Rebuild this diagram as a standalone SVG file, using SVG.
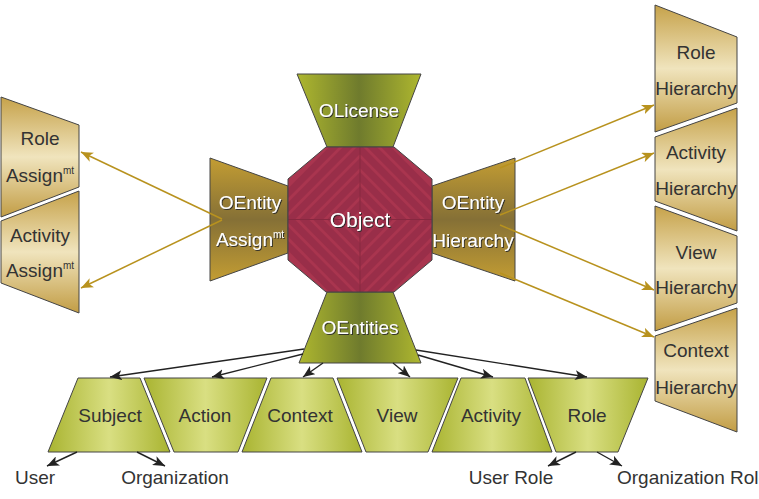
<svg xmlns="http://www.w3.org/2000/svg" width="759" height="499" viewBox="0 0 759 499">
<defs>
<style>
.lbl{font-family:"Liberation Sans",Arial,sans-serif;font-size:19px;text-anchor:middle;fill:#333}
.wlbl{font-family:"Liberation Sans",Arial,sans-serif;font-size:19px;text-anchor:middle;fill:#fff;filter:url(#sh)}
.sup{font-size:10px}
.edge{stroke:#444;stroke-width:1}
.gold{fill:none;stroke:#b8921e;stroke-width:1.5}
.blk{fill:none;stroke:#222;stroke-width:1.4}
</style>
<filter id="sh" x="-10%" y="-20%" width="130%" height="150%">
<feDropShadow dx="1" dy="1" stdDeviation="0.7" flood-color="#2a2a2a" flood-opacity="0.9"/>
</filter>
<linearGradient id="gGreen" x1="0" y1="0" x2="1" y2="0">
<stop offset="0" stop-color="#a9b431"/>
<stop offset="0.5" stop-color="#d9df82"/>
<stop offset="1" stop-color="#a9b431"/>
</linearGradient>
<linearGradient id="gOlive" x1="0" y1="0" x2="1" y2="0">
<stop offset="0" stop-color="#aeb72f"/>
<stop offset="0.5" stop-color="#6f7b2d"/>
<stop offset="1" stop-color="#aeb72f"/>
</linearGradient>
<linearGradient id="gBrass" x1="0" y1="0" x2="0" y2="1">
<stop offset="0" stop-color="#c39d33"/>
<stop offset="0.5" stop-color="#857036"/>
<stop offset="1" stop-color="#c39d33"/>
</linearGradient>
<linearGradient id="gSand" x1="0" y1="0" x2="0" y2="1">
<stop offset="0" stop-color="#c6a24a"/>
<stop offset="0.5" stop-color="#f0e4bd"/>
<stop offset="1" stop-color="#c29d45"/>
</linearGradient>
<clipPath id="octClip">
<polygon points="326,147 394,147 432,179 432,260 394,292 326,292 288,260 288,179"/>
</clipPath>
<marker id="ahGold" markerUnits="userSpaceOnUse" markerWidth="13" markerHeight="10" refX="12" refY="5" orient="auto">
<path d="M0,0 L12,5 L0,10 L3,5 z" fill="#b8921e"/>
</marker>
<marker id="ahBlk" markerUnits="userSpaceOnUse" markerWidth="13" markerHeight="10" refX="12" refY="5" orient="auto">
<path d="M0,0 L12,5 L0,10 L3,5 z" fill="#222"/>
</marker>
</defs>

<g id="OLicense">
<polygon class="edge" points="297,74 421,74 393,147 327,147" fill="url(#gOlive)"/>
<text class="wlbl" x="359" y="117">OLicense</text>
</g>
<g id="OEntities">
<polygon class="edge" points="327,292 393,292 421,363 299,363" fill="url(#gOlive)"/>
<text class="wlbl" x="360" y="334">OEntities</text>
</g>
<g id="OEntityAssign">
<polygon class="edge" points="210,158 288,186 288,253 210,281" fill="url(#gBrass)"/>
<text class="wlbl" x="250" y="209">OEntity</text>
<text class="wlbl" x="250" y="246">Assign<tspan class="sup" dy="-8">mt</tspan></text>
</g>
<g id="OEntityHierarchy">
<polygon class="edge" points="515,158 432,186 432,253 515,281" fill="url(#gBrass)"/>
<text class="wlbl" x="473" y="209">OEntity</text>
<text class="wlbl" x="473" y="247">Hierarchy</text>
</g>
<g id="Object">
<polygon points="326,147 394,147 432,179 432,260 394,292 326,292 288,260 288,179" fill="#a9354f"/>
<g clip-path="url(#octClip)" fill="none" stroke="#952d47" stroke-width="7" opacity="0.75">
<polygon points="360,205 374,219.5 360,234 346,219.5"/>
<polygon points="360,191 388,219.5 360,248 332,219.5"/>
<polygon points="360,177 402,219.5 360,262 318,219.5"/>
<polygon points="360,163 416,219.5 360,276 304,219.5"/>
<polygon points="360,149 430,219.5 360,290 290,219.5"/>
<polygon points="360,135 444,219.5 360,304 276,219.5"/>
<polygon points="360,121 458,219.5 360,318 262,219.5"/>
<line x1="288" y1="219.5" x2="432" y2="219.5" stroke-width="1" stroke="#7d243b"/>
<line x1="360" y1="147" x2="360" y2="292" stroke-width="1" stroke="#7d243b"/>
</g>
<polygon class="edge" points="326,147 394,147 432,179 432,260 394,292 326,292 288,260 288,179" fill="none"/>
<text class="wlbl" x="360" y="227" style="font-size:21px">Object</text>
</g>

<g id="RoleAssign">
<polygon class="edge" points="1,97 79,125 79,187 1,217" fill="url(#gSand)"/>
<text class="lbl" x="40" y="145">Role</text>
<text class="lbl" x="40" y="182">Assign<tspan class="sup" dy="-8">mt</tspan></text>
</g>
<g id="ActivityAssign">
<polygon class="edge" points="1,221 79,191 79,313 1,283" fill="url(#gSand)"/>
<text class="lbl" x="40" y="242">Activity</text>
<text class="lbl" x="40" y="277">Assign<tspan class="sup" dy="-8">mt</tspan></text>
</g>

<g id="RoleHierarchy">
<polygon class="edge" points="655,5 737,37 737,103 655,132" fill="url(#gSand)"/>
<text class="lbl" x="696" y="59">Role</text>
<text class="lbl" x="696" y="95">Hierarchy</text>
</g>
<g id="ActivityHierarchy">
<polygon class="edge" points="655,137 737,108 737,231 655,201" fill="url(#gSand)"/>
<text class="lbl" x="696" y="159">Activity</text>
<text class="lbl" x="696" y="195">Hierarchy</text>
</g>
<g id="ViewHierarchy">
<polygon class="edge" points="655,206 737,236 737,303 655,331" fill="url(#gSand)"/>
<text class="lbl" x="696" y="259">View</text>
<text class="lbl" x="696" y="294">Hierarchy</text>
</g>
<g id="ContextHierarchy">
<polygon class="edge" points="655,336 737,308 737,432 655,401" fill="url(#gSand)"/>
<text class="lbl" x="696" y="357">Context</text>
<text class="lbl" x="696" y="394">Hierarchy</text>
</g>

<g id="Subject">
<polygon class="edge" points="78,378 140,378 170,452 48,452" fill="url(#gGreen)"/>
<text class="lbl" x="110" y="422">Subject</text>
</g>
<g id="Action">
<polygon class="edge" points="144,378 267,378 238,452 174,452" fill="url(#gGreen)"/>
<text class="lbl" x="205" y="422">Action</text>
</g>
<g id="Context">
<polygon class="edge" points="271,378 333,378 362,452 242,452" fill="url(#gGreen)"/>
<text class="lbl" x="300" y="422">Context</text>
</g>
<g id="View">
<polygon class="edge" points="337,378 458,378 428,452 366,452" fill="url(#gGreen)"/>
<text class="lbl" x="397" y="422">View</text>
</g>
<g id="Activity">
<polygon class="edge" points="461,378 525,378 552,452 432,452" fill="url(#gGreen)"/>
<text class="lbl" x="491" y="422">Activity</text>
</g>
<g id="Role">
<polygon class="edge" points="528,378 648,378 618,452 556,452" fill="url(#gGreen)"/>
<text class="lbl" x="587" y="422">Role</text>
</g>

<g id="User"><text class="lbl" x="35" y="484">User</text></g>
<g id="Organization"><text class="lbl" x="175" y="484">Organization</text></g>
<g id="UserRole"><text class="lbl" x="511" y="484">User Role</text></g>
<g id="OrganizationRole"><text class="lbl" x="617" y="484" style="text-anchor:start">Organization Role</text></g>

<g id="connectors">
<line class="gold" x1="222" y1="219" x2="81" y2="152" marker-end="url(#ahGold)"/>
<line class="gold" x1="222" y1="220" x2="81" y2="288" marker-end="url(#ahGold)"/>
<line class="gold" x1="500" y1="168" x2="654" y2="105" marker-end="url(#ahGold)"/>
<line class="gold" x1="500" y1="215" x2="654" y2="153" marker-end="url(#ahGold)"/>
<line class="gold" x1="500" y1="225" x2="654" y2="290" marker-end="url(#ahGold)"/>
<line class="gold" x1="500" y1="273" x2="654" y2="337" marker-end="url(#ahGold)"/>
<line class="blk" x1="304" y1="349" x2="110" y2="377" marker-end="url(#ahBlk)"/>
<line class="blk" x1="303" y1="354" x2="212" y2="377" marker-end="url(#ahBlk)"/>
<line class="blk" x1="323" y1="363" x2="303" y2="377" marker-end="url(#ahBlk)"/>
<line class="blk" x1="393" y1="363" x2="410" y2="377" marker-end="url(#ahBlk)"/>
<line class="blk" x1="418" y1="355" x2="493" y2="377" marker-end="url(#ahBlk)"/>
<line class="blk" x1="416" y1="350" x2="587" y2="377" marker-end="url(#ahBlk)"/>
<line class="blk" x1="77" y1="452" x2="47" y2="466" marker-end="url(#ahBlk)"/>
<line class="blk" x1="137" y1="452" x2="165" y2="466" marker-end="url(#ahBlk)"/>
<line class="blk" x1="576" y1="452" x2="548" y2="466" marker-end="url(#ahBlk)"/>
<line class="blk" x1="597" y1="452" x2="622" y2="466" marker-end="url(#ahBlk)"/>
</g>
</svg>
